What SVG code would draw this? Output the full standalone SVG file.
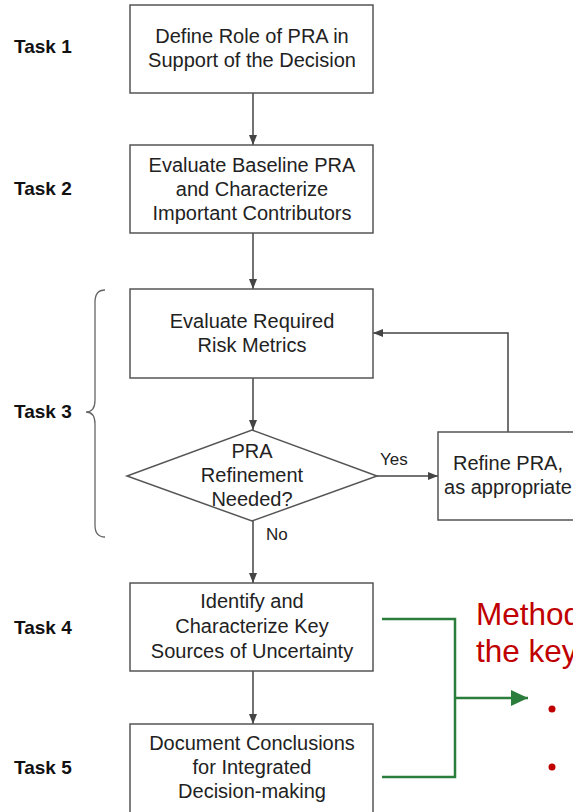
<svg xmlns="http://www.w3.org/2000/svg" width="573" height="812" viewBox="0 0 573 812">
<defs>
<style>
.box{fill:#fff;stroke:#555;stroke-width:1.5}
.bt{font-family:"Liberation Sans",Arial,sans-serif;font-size:20px;fill:#222;text-anchor:middle}
.task{font-family:"Liberation Sans",Arial,sans-serif;font-size:19px;font-weight:bold;fill:#111}
.lbl{font-family:"Liberation Sans",Arial,sans-serif;font-size:17px;fill:#222}
.conn{fill:none;stroke:#444;stroke-width:1.5}
.green{fill:none;stroke:#2b7d3c;stroke-width:2.5}
.red{font-family:"Liberation Sans",Arial,sans-serif;font-size:31.5px;fill:#c00000}
</style>
<marker id="ah" markerWidth="10" markerHeight="8" refX="10" refY="4" orient="auto" markerUnits="userSpaceOnUse">
<path d="M0,0 L10,4 L0,8 Z" fill="#444"/>
</marker>
<marker id="gh" markerWidth="17" markerHeight="16" refX="17" refY="8" orient="auto" markerUnits="userSpaceOnUse">
<path d="M0,0 L17,8 L0,16 Z" fill="#2b7d3c"/>
</marker>
</defs>
<rect width="573" height="812" fill="#fff"/>

<g id="task-labels">
<text class="task" x="14" y="53">Task 1</text>
<text class="task" x="14" y="195">Task 2</text>
<text class="task" x="14" y="418">Task 3</text>
<text class="task" x="14" y="634">Task 4</text>
<text class="task" x="14" y="774">Task 5</text>
</g>

<g id="brace">
<path d="M105,290 Q95,290 95,302 L95,400 Q95,412 86,412 Q95,412 95,424 L95,525 Q95,537 105,537" fill="none" stroke="#666" stroke-width="1.3"/>
</g>

<g id="connectors">
<line class="conn" x1="253" y1="93" x2="253" y2="145" marker-end="url(#ah)"/>
<line class="conn" x1="253" y1="233" x2="253" y2="289" marker-end="url(#ah)"/>
<line class="conn" x1="253" y1="378" x2="253" y2="430" marker-end="url(#ah)"/>
<line class="conn" x1="377" y1="476" x2="438" y2="476" marker-end="url(#ah)"/>
<polyline class="conn" points="508,432 508,333 373,333" marker-end="url(#ah)"/>
<line class="conn" x1="253" y1="521" x2="253" y2="583" marker-end="url(#ah)"/>
<line class="conn" x1="253" y1="671" x2="253" y2="724" marker-end="url(#ah)"/>
<text class="lbl" x="380" y="465">Yes</text>
<text class="lbl" x="266" y="540">No</text>
<polyline class="green" points="382,619 455,619 455,777 382,777"/>
<line class="green" x1="455" y1="698" x2="528" y2="698" marker-end="url(#gh)"/>
</g>

<g id="task1">
<rect class="box" x="130" y="5" width="243" height="88"/>
<text class="bt" x="252" y="43">Define Role of PRA in</text>
<text class="bt" x="252" y="67">Support of the Decision</text>
</g>

<g id="task2">
<rect class="box" x="130" y="145" width="243" height="88"/>
<text class="bt" x="252" y="172">Evaluate Baseline PRA</text>
<text class="bt" x="252" y="196">and Characterize</text>
<text class="bt" x="252" y="220">Important Contributors</text>
</g>

<g id="task3-evaluate">
<rect class="box" x="130" y="289" width="243" height="89"/>
<text class="bt" x="252" y="328">Evaluate Required</text>
<text class="bt" x="252" y="352">Risk Metrics</text>
</g>

<g id="decision">
<polygon class="box" points="252,430 377,476 252,521 127,476"/>
<text class="bt" x="252" y="458">PRA</text>
<text class="bt" x="252" y="482">Refinement</text>
<text class="bt" x="252" y="506">Needed?</text>
</g>

<g id="refine">
<rect class="box" x="438" y="432" width="145" height="88"/>
<text class="bt" x="508" y="470">Refine PRA,</text>
<text class="bt" x="508" y="494">as appropriate</text>
</g>

<g id="task4">
<rect class="box" x="130" y="583" width="243" height="88"/>
<text class="bt" x="252" y="608">Identify and</text>
<text class="bt" x="252" y="633">Characterize Key</text>
<text class="bt" x="252" y="658">Sources of Uncertainty</text>
</g>

<g id="task5">
<rect class="box" x="130" y="724" width="243" height="95"/>
<text class="bt" x="252" y="750">Document Conclusions</text>
<text class="bt" x="252" y="774">for Integrated</text>
<text class="bt" x="252" y="798">Decision-making</text>
</g>

<g id="methods">
<text class="red" x="476" y="625">Methods</text>
<text class="red" x="476" y="662">the key</text>
<circle cx="552" cy="709" r="3.5" fill="#c00000"/>
<circle cx="552" cy="767" r="3.5" fill="#c00000"/>
</g>
</svg>
